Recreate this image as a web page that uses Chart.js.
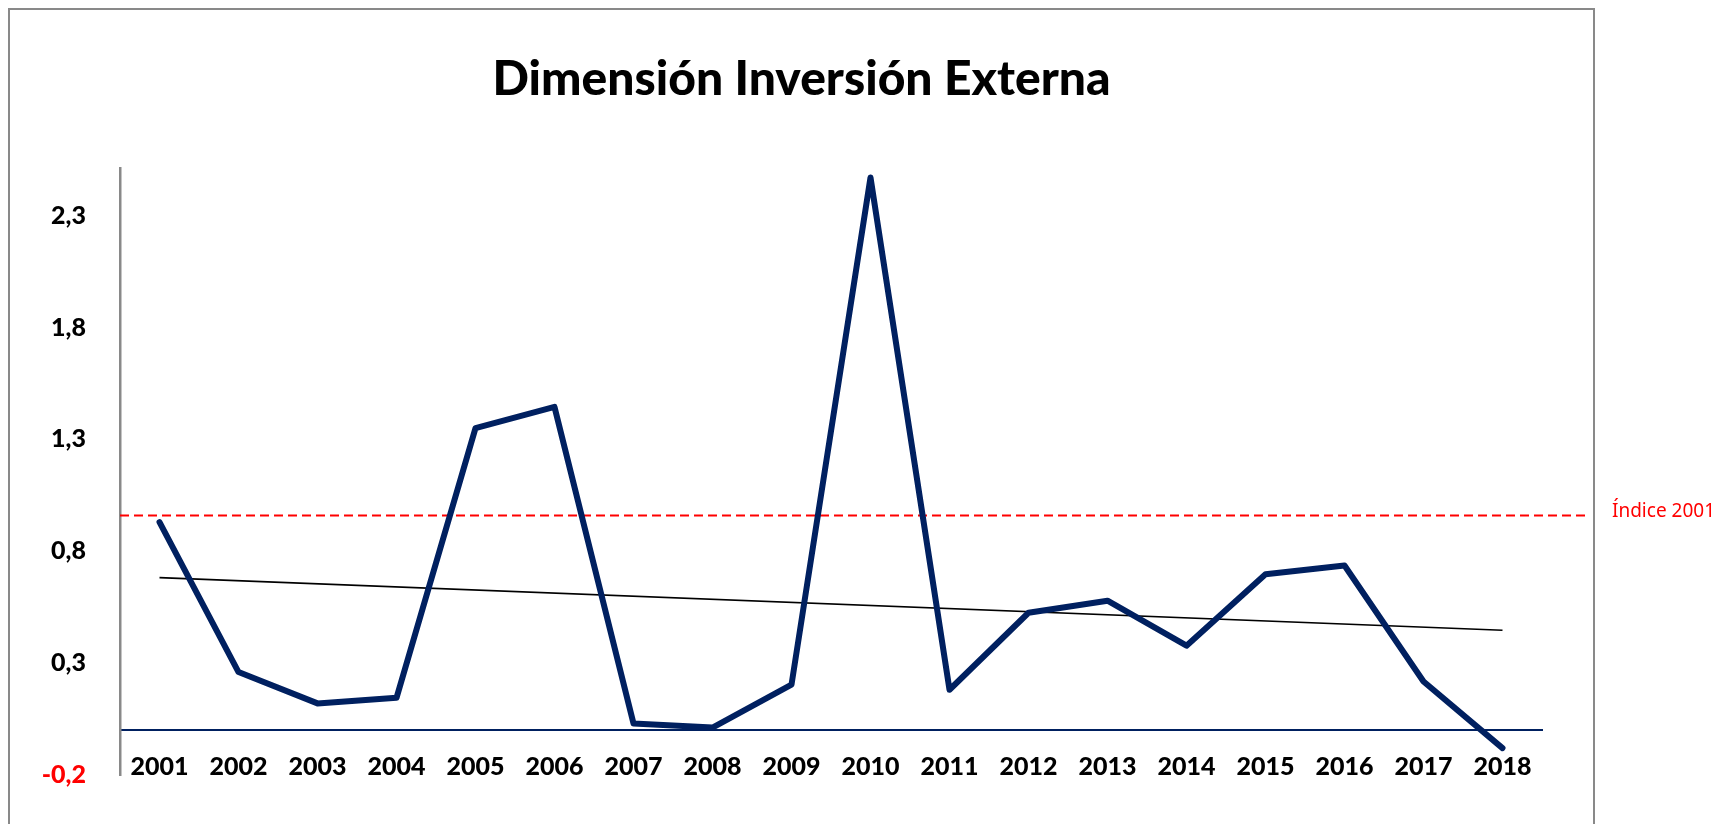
<!DOCTYPE html>
<html lang="es">
<head>
<meta charset="utf-8">
<title>Dimensión Inversión Externa</title>
<script src="https://cdn.jsdelivr.net/npm/chart.js@4.4.1/dist/chart.umd.min.js"></script>
<style>
  html, body { margin: 0; padding: 0; background: #fff; }
  #wrap { position: relative; width: 1726px; height: 824px; }
</style>
</head>
<body>
<div id="wrap"><canvas id="chart"></canvas></div>
<script>
// datos
const years = ['2001','2002','2003','2004','2005','2006','2007','2008','2009','2010','2011','2012','2013','2014','2015','2016','2017','2018'];
const values = [0.93, 0.26, 0.12, 0.145, 1.35, 1.445, 0.03, 0.012, 0.204, 2.47, 0.181, 0.525, 0.579, 0.378, 0.697, 0.736, 0.218, -0.08];
const trendEnds = [0.682, 0.447];          // línea de tendencia (inicio, fin)
const indexValue = 0.96;                   // Índice 2001
const indexLabel = 'Índice 2001';
const yTickValues = [-0.2, 0.3, 0.8, 1.3, 1.8, 2.3];
const yMin = -0.2, yMax = 2.51;

const NAVY = '#002060';
const RED = '#ff0000';

// tendencia: solo los extremos, unidos por spanGaps
const trendData = years.map((_, i) => i === 0 ? trendEnds[0] : (i === years.length - 1 ? trendEnds[1] : null));

const frameAndIndex = {
  id: 'frameAndIndex',
  beforeDraw(chart) {
    const ctx = chart.ctx;
    ctx.save();
    ctx.strokeStyle = '#898989';
    ctx.lineWidth = 2;
    ctx.strokeRect(9, 9, 1585, 900);
    ctx.restore();
  },
  beforeDatasetsDraw(chart) {
    const { ctx, chartArea } = chart;
    const y = chart.scales.y.getPixelForValue(indexValue);
    ctx.save();
    ctx.strokeStyle = RED;
    ctx.lineWidth = 2;
    ctx.setLineDash([9, 5]);
    ctx.beginPath();
    ctx.moveTo(chartArea.left, y);
    ctx.lineTo(1587, y);
    ctx.stroke();
    ctx.setLineDash([]);
    ctx.fillStyle = RED;
    ctx.font = '19px "Noto Sans"';
    ctx.textBaseline = 'middle';
    ctx.textAlign = 'left';
    ctx.fillText(indexLabel, 1612, y - 4);
    ctx.restore();
  }
};

new Chart(document.getElementById('chart'), {
  type: 'line',
  data: {
    labels: years,
    datasets: [
      {
        label: 'Dimensión Inversión Externa',
        data: values,
        borderColor: NAVY,
        borderWidth: 6,
        pointRadius: 0,
        tension: 0,
        borderCapStyle: 'round',
        borderJoinStyle: 'round',
        order: 1
      },
      {
        label: 'Tendencia',
        data: trendData,
        borderColor: '#000',
        borderWidth: 1.6,
        pointRadius: 0,
        spanGaps: true,
        order: 2
      }
    ]
  },
  options: {
    responsive: true,
    maintainAspectRatio: false,
    animation: false,
    layout: { padding: { left: 9, right: 132, top: 0, bottom: 49 } },
    plugins: {
      legend: { display: false },
      tooltip: { enabled: false },
      title: {
        display: true,
        text: 'Dimensión Inversión Externa',
        color: '#000',
        font: { family: 'Lato', size: 48, weight: '900' },
        padding: { top: 51, bottom: 60 }
      }
    },
    scales: {
      x: {
        type: 'category',
        offset: true,
        position: { y: 0 },
        grid: { display: false, drawTicks: false, offset: true },
        border: { display: true, color: NAVY, width: 2 },
        ticks: {
          color: '#000',
          font: { family: 'Lato', size: 25, weight: '900' },
          padding: 22,
          maxRotation: 0,
          autoSkip: false
        }
      },
      y: {
        min: yMin,
        max: yMax,
        grid: { display: false, drawTicks: false },
        border: { display: true, color: '#898989', width: 2.5 },
        afterFit: s => { s.width = 111; },
        afterBuildTicks: s => { s.ticks = yTickValues.map(v => ({ value: v })); },
        ticks: {
          padding: 34,
          font: { family: 'Lato', size: 25, weight: '900' },
          color: c => c.tick.value < 0 ? RED : '#000',
          callback: v => v.toFixed(1).replace('.', ',')
        }
      },
      // eje vacío a la derecha: reserva el margen hasta el borde del marco
      yRight: {
        position: 'right',
        min: yMin,
        max: yMax,
        grid: { display: false, drawTicks: false },
        border: { display: false },
        ticks: { display: false },
        afterFit: s => { s.width = 52; }
      }
    }
  },
  plugins: [frameAndIndex]
});
</script>
</body>
</html>
